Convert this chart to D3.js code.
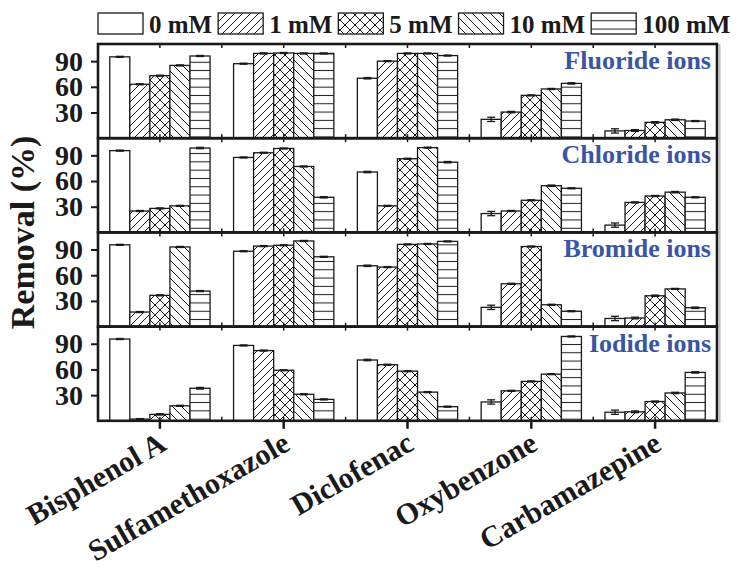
<!DOCTYPE html>
<html>
<head>
<meta charset="utf-8">
<script src="https://cdn.jsdelivr.net/npm/d3@7/dist/d3.min.js"></script>
<style>
  body { margin: 0; background: #fff; }
  svg { display: block; }
  text { font-family: "Liberation Serif", "Times New Roman", serif; font-weight: bold; }
</style>
</head>
<body>
<svg id="chart" width="738" height="585"></svg>
<script>
// Compounds on the x axis, salt concentrations as the series, one panel per halide
const categories = ["Bisphenol A", "Sulfamethoxazole", "Diclofenac", "Oxybenzone", "Carbamazepine"];
const concentrations = ["0 mM", "1 mM", "5 mM", "10 mM", "100 mM"];
const ions = ["Fluoride ions", "Chloride ions", "Bromide ions", "Iodide ions"];
const yTicks = [30, 60, 90];

// Removal (%) per compound, values ordered as in `concentrations`
const fluorideRemoval = [
  [95, 63, 73, 85, 96],
  [87, 99, 99.5, 99, 99],
  [70, 90, 99, 99, 96.5],
  [22, 30.5, 50, 57.5, 64],
  [8.5, 9, 18.5, 21.5, 20]
];
const chlorideRemoval = [
  [95.5, 25, 28, 31, 98.5],
  [87.5, 93, 98, 77, 41],
  [70.5, 31, 86, 99, 82],
  [22, 25, 37.5, 54.5, 51.5],
  [8.5, 35, 42.5, 47, 41]
];
const bromideRemoval = [
  [95.5, 17, 36.5, 93, 41.5],
  [88, 94, 95, 100, 81.5],
  [71, 69.5, 96, 96.5, 99.5],
  [22.5, 50, 93.5, 25.5, 18],
  [9.5, 10, 36, 44, 22]
];
const iodideRemoval = [
  [95.5, 2, 7.5, 17.5, 38],
  [88, 82, 59, 31, 25],
  [71, 65.5, 58, 33.5, 16.5],
  [22, 35, 46, 54.5, 98.5],
  [10, 10.5, 22.5, 32.5, 56.5]
];

// Standard deviations, same layout as the removal arrays
const fluorideError = [
  [0.6, 0.6, 0.6, 0.6, 0.6],
  [0.6, 0.6, 0.6, 0.6, 0.6],
  [0.8, 0.6, 0.6, 0.6, 0.6],
  [2.5, 0.8, 0.6, 0.6, 0.8],
  [2.5, 1, 0.8, 0.8, 0.6]
];
const chlorideError = [
  [0.6, 0.6, 0.6, 0.6, 0.8],
  [0.6, 0.6, 0.6, 0.6, 0.8],
  [0.8, 0.6, 0.6, 0.6, 0.8],
  [2.5, 0.6, 0.6, 0.8, 0.6],
  [2.5, 0.6, 0.6, 0.8, 0.6]
];
const bromideError = [
  [0.6, 0.6, 0.6, 0.6, 0.6],
  [0.6, 0.6, 0.6, 0.6, 0.6],
  [0.8, 0.6, 0.6, 0.6, 0.6],
  [2.5, 0.6, 0.6, 0.6, 0.6],
  [2.5, 1, 0.8, 0.6, 0.8]
];
const iodideError = [
  [0.6, 0.6, 0.8, 0.6, 1],
  [0.6, 0.6, 0.6, 0.6, 0.6],
  [0.8, 0.6, 0.6, 0.6, 0.6],
  [2.5, 0.6, 0.6, 0.6, 0.6],
  [2.5, 1, 0.6, 0.8, 0.8]
];

const panelValues = [fluorideRemoval, chlorideRemoval, bromideRemoval, iodideRemoval];
const panelErrors = [fluorideError, chlorideError, bromideError, iodideError];

const ink = "#1a1a1a";
const labelBlue = "#3a55a5";
const plotLeft = 98, plotRight = 717, plotTop = 44, panelH = 94.2;

const svg = d3.select("#chart");

// Fill patterns, one per concentration
const defs = svg.append("defs");
function pattern(id, w, h, d) {
  const p = defs.append("pattern").attr("id", id)
    .attr("patternUnits", "userSpaceOnUse").attr("width", w).attr("height", h);
  p.append("rect").attr("width", w).attr("height", h).attr("fill", "#fff");
  if (d) p.append("path").attr("d", d).attr("stroke", ink).attr("stroke-width", 1).attr("fill", "none");
}
pattern("p0", 8, 8, null);
pattern("p1", 8, 8, "M-2,10L10,-2M-2,2L2,-2M6,10L10,6");
pattern("p2", 10, 10, "M0,10L10,0M-2,2L2,-2M8,12L12,8M0,0L10,10M-2,8L2,12M8,-2L12,2");
pattern("p3", 9, 9, "M-2,-2L11,11M-2,7L2,11M7,-2L11,2");
pattern("p4", 8, 8.3, "M0,4.15L8,4.15");
const fillFor = i => `url(#p${i})`;

const x = d3.scaleBand().domain(categories).range([plotLeft, plotRight]).paddingInner(0.19).paddingOuter(0.095);
const xs = d3.scaleBand().domain(concentrations).range([0, x.bandwidth()]);
const step = x.step();
const centers = categories.map(c => x(c) + x.bandwidth() / 2);
const bounds = d3.range(1, categories.length).map(k => plotLeft + k * step);

ions.forEach((ion, pi) => {
  const y0 = plotTop + pi * panelH;
  const y = d3.scaleLinear().domain([0, 110]).range([y0 + panelH, y0]);
  const g = svg.append("g");
  const values = panelValues[pi], errs = panelErrors[pi];

  categories.forEach((cat, ci) => {
    concentrations.forEach((conc, si) => {
      const v = values[ci][si], e = errs[ci][si];
      const bx = x(cat) + xs(conc);
      g.append("rect")
        .attr("x", bx).attr("y", y(v))
        .attr("width", xs.bandwidth()).attr("height", y(0) - y(v))
        .attr("fill", fillFor(si)).attr("stroke", ink).attr("stroke-width", 1.3);
      const cx = bx + xs.bandwidth() / 2;
      const eb = g.append("g").attr("stroke", ink).attr("stroke-width", 1.3);
      eb.append("line").attr("x1", cx).attr("x2", cx).attr("y1", y(v + e)).attr("y2", y(v - e));
      eb.append("line").attr("x1", cx - 4).attr("x2", cx + 4).attr("y1", y(v + e)).attr("y2", y(v + e));
      eb.append("line").attr("x1", cx - 4).attr("x2", cx + 4).attr("y1", y(v - e)).attr("y2", y(v - e));
    });
  });

  // left axis with outward ticks
  const axisL = d3.axisLeft(y).tickValues(yTicks).tickSize(7).tickPadding(8);
  const ga = svg.append("g").attr("transform", `translate(${plotLeft},0)`).call(axisL);
  ga.select(".domain").remove();
  ga.selectAll(".tick line").attr("stroke", ink).attr("stroke-width", 2);
  ga.selectAll(".tick text").attr("fill", ink).attr("font-size", 28)
    .style("font-family", '"Liberation Serif", serif').style("font-weight", "bold");

  // small inward ticks on the panel's top and bottom edges
  centers.concat(bounds).forEach(tx => {
    svg.append("line").attr("x1", tx).attr("x2", tx).attr("y1", y0).attr("y2", y0 + 4).attr("stroke", ink).attr("stroke-width", 1.5);
    svg.append("line").attr("x1", tx).attr("x2", tx).attr("y1", y0 + panelH - 4).attr("y2", y0 + panelH).attr("stroke", ink).attr("stroke-width", 1.5);
  });

  // panel frame
  svg.append("rect").attr("x", plotLeft).attr("y", y0).attr("width", plotRight - plotLeft).attr("height", panelH)
    .attr("fill", "none").attr("stroke", ink).attr("stroke-width", 2.6);

  svg.append("text").attr("x", 711).attr("y", y0 + 25).attr("text-anchor", "end")
    .attr("font-size", 26).attr("fill", labelBlue).text(ion);
});

// soft edge along the right frame
svg.append("line").attr("x1", plotRight + 2.5).attr("x2", plotRight + 2.5).attr("y1", plotTop).attr("y2", plotTop + 4 * panelH + 2)
  .attr("stroke", "#bdbdbd").attr("stroke-width", 2);

// bottom category axis
const bottomY = plotTop + 4 * panelH;
const axisB = d3.axisBottom(x).tickSize(8).tickFormat("");
const gb = svg.append("g").attr("transform", `translate(0,${bottomY})`).call(axisB);
gb.select(".domain").remove();
gb.selectAll(".tick line").attr("stroke", ink).attr("stroke-width", 2.5);

svg.append("g").selectAll("text").data(categories).join("text")
  .attr("transform", d => `translate(${x(d) + x.bandwidth() / 2 + 8},${bottomY + 28}) rotate(-30)`)
  .attr("text-anchor", "end").attr("font-size", 30).attr("fill", ink).text(d => d);

// y axis title
svg.append("text")
  .attr("transform", `translate(34,${plotTop + 2 * panelH}) rotate(-90)`)
  .attr("text-anchor", "middle").attr("font-size", 34).attr("fill", ink).text("Removal (%)");

// legend across the top
let lx = 98;
concentrations.forEach((c, i) => {
  svg.append("rect").attr("x", lx).attr("y", 13).attr("width", 45).attr("height", 21)
    .attr("fill", fillFor(i)).attr("stroke", ink).attr("stroke-width", 1.3);
  const t = svg.append("text").attr("x", lx + 51).attr("y", 33).attr("font-size", 25).attr("fill", ink).text(c);
  lx += 51 + t.node().getComputedTextLength() + 6;
});
</script>
</body>
</html>
